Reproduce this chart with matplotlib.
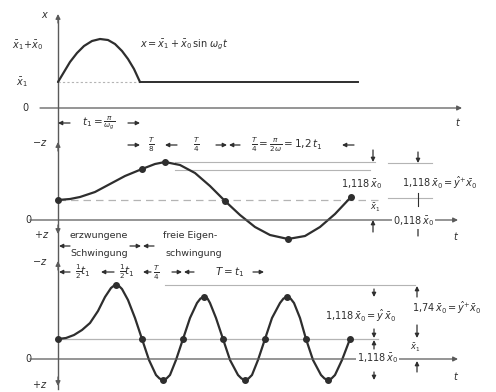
import matplotlib
matplotlib.use("Agg")
import matplotlib.pyplot as plt

# ---------------------------------------------------------------
# Data (time t measured from the ordinate, displacement above the
# zero line of each panel; both in diagram units)
# ---------------------------------------------------------------
# half-sine base excitation x(t)
SHOCK_T = [0, 6, 12, 19, 26, 34, 42, 50, 57, 64, 70, 76, 82]
SHOCK_X = [26, 36, 46, 55, 62, 67, 69, 68, 64, 57, 49, 39, 26]
REST_T = [82, 300]
REST_X = [26, 26]

# response -z(t), slow oscillator
RESP2_T = [0, 12, 22, 37, 52, 67, 84, 97, 107, 122, 137, 152, 167, 182,
           197, 212, 230, 247, 262, 277, 293]
RESP2_Z = [20, 21, 23, 28, 36, 44, 51, 56, 58, 55, 47, 34, 19, 5,
           -7, -15, -19, -16, -7, 6, 23]
DOTS2_T = [0, 84, 107, 167, 230, 293]
DOTS2_Z = [20, 51, 58, 19, -19, 23]

# response -z(t), fast oscillator
RESP3_T = [0, 8, 16, 24, 32, 40, 47, 53, 55.5, 58, 61, 64, 70, 77, 84, 91,
           98, 101.5, 105, 108.5, 112, 118, 125, 132, 139, 142.5, 146, 149.5,
           152, 158, 165, 172, 180, 183.5, 187, 190.5, 194, 200, 207, 214,
           222, 225.5, 229, 232.5, 236, 242, 248, 255, 263, 266.5, 270,
           273.5, 277, 284, 292]
RESP3_Z = [20, 21, 24, 29, 36, 48, 62, 71, 73, 74, 73, 70, 59, 41, 20, -1,
           -16, -19.5, -21, -19.5, -16, -1, 20, 41, 56, 60.5, 62, 60.5,
           56, 41, 20, -1, -16, -19.5, -21, -19.5, -16, -1, 20, 41,
           56, 60.5, 62, 60.5, 56, 41, 20, -1, -16, -19.5, -21,
           -19.5, -16, -1, 20]
DOTS3_T = [0, 58, 84, 105, 125, 146, 165, 187, 207, 229, 248, 270, 292]
DOTS3_Z = [20, 74, 20, -21, 20, 62, 20, -21, 20, 62, 20, -21, 20]

STATIC_LEVEL = 20   # static deflection line in panels 2 and 3

INK = "#2e2e2e"
AXC = "#5a5a5a"
LIGHT = "#b4b4b4"
FS = 7
FR = 7.5   # size for labels containing fractions

W, H = 496, 392
fig = plt.figure(figsize=(W / 100, H / 100), dpi=100)
fig.patch.set_facecolor("white")


def panel(top, bottom, zero):
    ax = fig.add_axes([0, 1 - bottom / H, 1, (bottom - top) / H])
    ax.set_xlim(-58, W - 58)
    ax.set_ylim(-(bottom - zero), zero - top)
    ax.set_axis_off()
    ax.patch.set_alpha(0)
    return ax


def arrow(ax, x0, y0, x1, y1, ms=7, lw=0.9, color=AXC):
    ax.annotate("", xy=(x1, y1), xytext=(x0, y0),
                arrowprops=dict(arrowstyle="-|>", color=color, lw=lw,
                                mutation_scale=ms, shrinkA=0, shrinkB=0),
                annotation_clip=False)


def txt(ax, x, y, s, ha="center", va="center", size=FS, bg=False):
    kw = {}
    if bg:
        kw["bbox"] = dict(facecolor="white", edgecolor="none", pad=0.5)
    ax.text(x, y, s, ha=ha, va=va, fontsize=size, color=INK,
            clip_on=False, **kw)


# ---------------------------- panel 1: excitation ----------------------
ax1 = panel(0, 130, 108)
ax1.plot([0, 0], [-22, 88], color=AXC, lw=1.0)
arrow(ax1, 0, 85, 0, 94)
arrow(ax1, -18, 0, 404, 0)
txt(ax1, 400, -14, "$t$")
txt(ax1, -13, 93, "$x$")
txt(ax1, -30, 63, r"$\bar{x}_1\!+\!\bar{x}_0$")
txt(ax1, -36, 26, r"$\bar{x}_1$")
txt(ax1, -33, 0, "0")
ax1.plot([0, 82], [26, 26], color=LIGHT, lw=0.8, ls=(0, (2, 2)))
ax1.plot(SHOCK_T, SHOCK_X, color=INK, lw=1.6, solid_capstyle="round")
ax1.plot(REST_T, REST_X, color=INK, lw=1.4)
txt(ax1, 82, 63, r"$x = \bar{x}_1 + \bar{x}_0\,\sin\,\omega_g t$", ha="left")
arrow(ax1, 12, -15, 0, -15, ms=6, color=INK)
arrow(ax1, 70, -15, 82, -15, ms=6, color=INK)
txt(ax1, 41, -15, r"$t_1=\frac{\pi}{\omega_g}$", size=FR)

# ---------------------------- panel 2: slow response --------------------
ax2 = panel(130, 242, 220)
ax2.plot([0, 0], [-22, 90], color=AXC, lw=1.0)
arrow(ax2, 0, 69, 0, 78)
arrow(ax2, 0, -5, 0, -14)
txt(ax2, -18, 77, "$-z$")
txt(ax2, -30, 0, "0")
txt(ax2, -16, -15, "$+z$")
arrow(ax2, -28, 0, 400, 0)
txt(ax2, 398, -16, "$t$")
ax2.plot([0, 322], [STATIC_LEVEL] * 2, color=LIGHT, lw=0.9, ls=(0, (6, 4)))
ax2.plot([117, 317], [58, 58], color=LIGHT, lw=0.8)
ax2.plot([117, 312], [50, 50], color=LIGHT, lw=0.8)
ax2.plot([330, 374], [57, 57], color=LIGHT, lw=0.8)
ax2.plot([330, 374], [22, 22], color=LIGHT, lw=0.8)
ax2.plot(RESP2_T, RESP2_Z, color=INK, lw=1.6, solid_capstyle="round",
         solid_joinstyle="round")
ax2.plot(DOTS2_T, DOTS2_Z, "o", ms=4, color=INK)

# interval marks above the curve
for a, b in [(70, 82), (119, 107), (158, 169), (182, 171), (296, 284)]:
    arrow(ax2, a, 75, b, 75, ms=6, color=INK)
txt(ax2, 93, 75, r"$\frac{T}{8}$", size=FR)
txt(ax2, 138, 75, r"$\frac{T}{4}$", size=FR)
txt(ax2, 229, 75, r"$\frac{T}{4}=\frac{\pi}{2\omega}=1{,}2\,t_1$", size=FR)

# dimensions at the right
arrow(ax2, 315, 70, 315, 58, ms=6, color=INK)
arrow(ax2, 315, -12, 315, 0, ms=6, color=INK)
txt(ax2, 304, 36, r"$1{,}118\,\bar{x}_0$", size=7, bg=True)
txt(ax2, 317, 12, r"$\bar{x}_1$", size=6)
arrow(ax2, 360, 68, 360, 57, ms=6, color=INK)
ax2.plot([360, 360], [14, 27], color=INK, lw=0.8)
arrow(ax2, 360, -16, 360, -3, ms=6, color=INK)
txt(ax2, 344, 37, r"$1{,}118\,\bar{x}_0=\hat{y}^{+}\bar{x}_0$", ha="left",
    size=7, bg=True)
txt(ax2, 335, -1, r"$0{,}118\,\bar{x}_0$", ha="left", size=7, bg=True)

# ---------------------------- panel 3: fast response --------------------
ax3 = panel(242, 392, 359)
ax3.plot([0, 0], [-30, 117], color=AXC, lw=1.0)
arrow(ax3, 0, 89, 0, 98)
arrow(ax3, 0, -18, 0, -27)
txt(ax3, -18, 97, "$-z$")
txt(ax3, -30, 0, "0")
txt(ax3, -18, -26, "$+z$")
arrow(ax3, -28, 0, 400, 0)
txt(ax3, 398, -17, "$t$")
ax3.plot([0, 320], [STATIC_LEVEL] * 2, color=LIGHT, lw=0.9)
ax3.plot([107, 357], [74, 74], color=LIGHT, lw=0.8)
ax3.plot(RESP3_T, RESP3_Z, color=INK, lw=1.6, solid_capstyle="round",
         solid_joinstyle="round")
ax3.plot(DOTS3_T, DOTS3_Z, "o", ms=4, color=INK)

# forced / free vibration captions
txt(ax3, 12, 123, "erzwungene", ha="left", size=6.8)
txt(ax3, 12, 105, "Schwingung", ha="left", size=6.8)
txt(ax3, 105, 123, "freie Eigen-", ha="left", size=6.8)
txt(ax3, 107, 105, "schwingung", ha="left", size=6.8)
arrow(ax3, 12, 113, 1, 113, ms=6, color=INK)
arrow(ax3, 72, 113, 83, 113, ms=6, color=INK)
arrow(ax3, 96, 113, 85, 113, ms=6, color=INK)

# interval row
for a, b in [(12, 1), (56, 43), (93, 85), (114, 124), (136, 126), (195, 206)]:
    arrow(ax3, a, 87, b, 87, ms=6, color=INK)
txt(ax3, 25, 87, r"$\frac{1}{2}t_1$", size=FR)
txt(ax3, 69, 87, r"$\frac{1}{2}t_1$", size=FR)
txt(ax3, 98, 86, r"$\frac{T}{4}$", size=FR)
txt(ax3, 172, 87, r"$T=t_1$", size=FR)

# dimensions at the right
arrow(ax3, 316, 70, 316, 62, ms=6, color=INK)
arrow(ax3, 316, 30, 316, 21, ms=6, color=INK)
arrow(ax3, 316, 10, 316, 19, ms=6, color=INK)
arrow(ax3, 316, -13, 316, -21, ms=6, color=INK)
txt(ax3, 267, 43, r"$1{,}118\,\bar{x}_0=\hat{y}\,\bar{x}_0$", ha="left",
    size=7, bg=True)
txt(ax3, 299, 1, r"$1{,}118\,\bar{x}_0$", ha="left", size=7, bg=True)
arrow(ax3, 359, 62, 359, 73, ms=6, color=INK)
arrow(ax3, 359, 34, 359, 21, ms=6, color=INK)
arrow(ax3, 359, -13, 359, -2, ms=6, color=INK)
txt(ax3, 357, 11, r"$\bar{x}_1$", size=6)
txt(ax3, 354, 51, r"$1{,}74\,\bar{x}_0=\hat{y}^{+}\bar{x}_0$", ha="left",
    size=7, bg=True)

fig.savefig("out.png", dpi=100, facecolor="white")
